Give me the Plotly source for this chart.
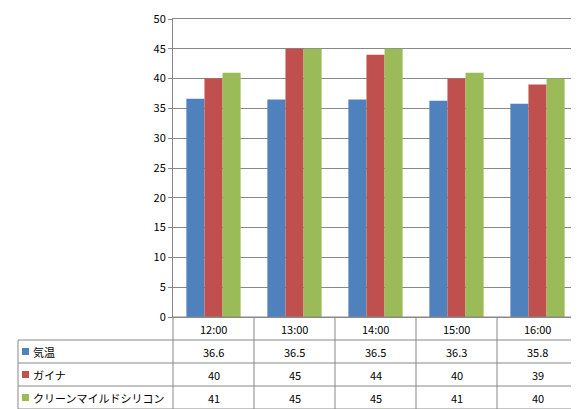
import plotly.graph_objects as go

times = ["12:00", "13:00", "14:00", "15:00", "16:00"]
series_names = ["気温", "ガイナ", "クリーンマイルドシリコン"]
kion = [36.6, 36.5, 36.5, 36.3, 35.8]
gaina = [40, 45, 44, 40, 39]
silicon = [41, 45, 45, 41, 40]
colors = ["#4F81BD", "#C0504D", "#9BBB59"]
values = [kion, gaina, silicon]

W, H = 579, 409
def px(x): return x / W
def py(y): return 1 - y / H

x0, x1, ytop, ybot = 165, 570, 11, 309
fig = go.Figure()
for name, vals, c in zip(series_names, values, colors):
    fig.add_bar(x=times, y=vals, name=name, marker=dict(color=c, line=dict(width=0)))

fig.update_layout(
    width=W, height=H, margin=dict(l=0, r=0, t=0, b=0, autoexpand=False),
    paper_bgcolor="white", plot_bgcolor="white", showlegend=False,
    barmode="group", bargap=0.33, bargroupgap=0,
    font=dict(family="Noto Sans CJK JP", size=11, color="#000"),
    xaxis=dict(domain=[px(x0), px(x1)], showticklabels=False, showline=True,
               linecolor="#888", mirror=True, showgrid=False, automargin=False),
    yaxis=dict(domain=[py(ybot), py(ytop)], range=[0, 50], dtick=5,
               showgrid=True, gridcolor="#888", gridwidth=1, automargin=False,
               showline=True, linecolor="#888", mirror=True,
               ticks="outside", ticklen=4, tickcolor="#888", zeroline=False),
)

rows = [309, 332, 355, 378, 401]
colw = (x1 - x0) / len(times)
shapes = []
line = dict(color="#888", width=1)
for i, r in enumerate(rows):
    left = x0 if i == 0 else 10
    shapes.append(dict(type="line", xref="paper", yref="paper", x0=px(left), x1=px(x1), y0=py(r), y1=py(r), line=line))
shapes.append(dict(type="line", xref="paper", yref="paper", x0=px(10), x1=px(10), y0=py(rows[1]), y1=py(rows[-1]), line=line))
for j in range(len(times) + 1):
    xx = x0 + j * colw
    shapes.append(dict(type="line", xref="paper", yref="paper", x0=px(xx), x1=px(xx), y0=py(ybot), y1=py(rows[-1]), line=line))
for i, c in enumerate(colors):
    yc = (rows[i + 1] + rows[i + 2]) / 2
    shapes.append(dict(type="rect", xref="paper", yref="paper", x0=px(14), x1=px(21), y0=py(yc + 3.5), y1=py(yc - 3.5), fillcolor=c, line=dict(width=0)))
fig.update_layout(shapes=shapes)

ann = []
for j, t in enumerate(times):
    xc = x0 + (j + 0.5) * colw
    ann.append(dict(x=px(xc), y=py((rows[0] + rows[1]) / 2), text=t))
    for i, vals in enumerate(values):
        ann.append(dict(x=px(xc), y=py((rows[i + 1] + rows[i + 2]) / 2), text=str(vals[j])))
for i, n in enumerate(series_names):
    ann.append(dict(x=px(23), y=py((rows[i + 1] + rows[i + 2]) / 2), text=n, xanchor="left"))
for a in ann:
    a.update(xref="paper", yref="paper", showarrow=False, yanchor="middle")
    a.setdefault("xanchor", "center")
fig.update_layout(annotations=ann)

fig.write_html("out.html")
